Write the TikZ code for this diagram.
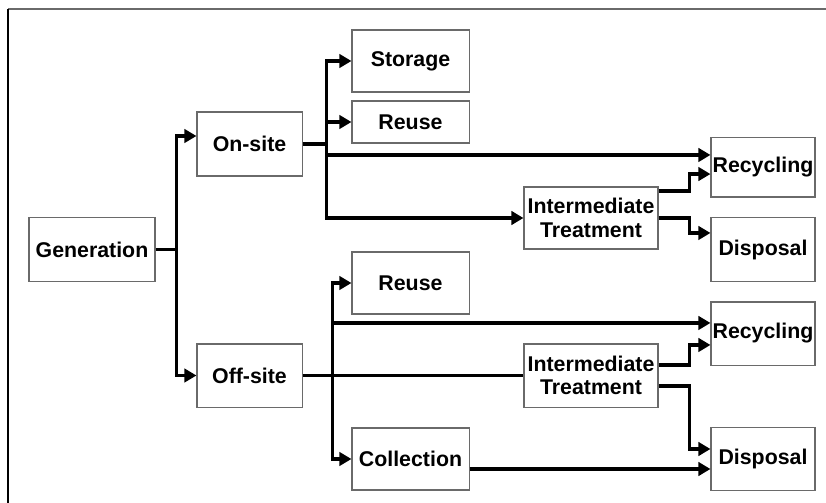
\documentclass[tikz,border=0pt]{standalone}
\usepackage{fontspec}
\setmainfont{Liberation Sans}
\usetikzlibrary{arrows.meta,calc}
\definecolor{boxline}{HTML}{6A6A6A}
\begin{document}
\begin{tikzpicture}[x=0.75pt,y=-0.75pt,
  box/.style={draw=boxline,line width=0.8pt,fill=white,align=center,inner sep=1pt,
    font=\fontsize{16}{17.5}\selectfont\bfseries},
  flow/.style={line width=2.7pt,black},
  arr/.style={flow,-{Triangle[length=9pt,width=10pt]}}]
\useasboundingbox (0,0) rectangle (826,503);
% frame
\draw[boxline,line width=1.2pt] (8,9) -- (826,9);
\draw[black,line width=1.2pt] (8,9) -- (8,503);

% boxes
\node[box,minimum width=94.5pt,minimum height=47.3pt] (gen) at (92,249.5) {Generation};
\node[box,minimum width=78.8pt,minimum height=48pt] (onsite) at (249.5,144) {On-site};
\node[box,minimum width=78.8pt,minimum height=47.3pt] (offsite) at (249.5,375.5) {Off-site};
\node[box,minimum width=87.8pt,minimum height=46.5pt] (storage) at (410.5,61) {Storage};
\node[box,minimum width=87.8pt,minimum height=31.5pt] (reuseA) at (410.5,122) {Reuse};
\node[box,minimum width=87.8pt,minimum height=46.5pt] (reuseB) at (410.5,283) {Reuse};
\node[box,minimum width=87.8pt,minimum height=46.5pt] (collect) at (410.5,459) {Collection};
\node[box,minimum width=100.5pt,minimum height=46.5pt] (interA) at (591,218) {Intermediate\\Treatment};
\node[box,minimum width=100.5pt,minimum height=47.3pt] (interB) at (591,375.5) {Intermediate\\Treatment};
\node[box,minimum width=78pt,minimum height=44.3pt] (recA) at (763,167.5) {Recycling};
\node[box,minimum width=78pt,minimum height=47.3pt] (dispA) at (763,249.5) {Disposal};
\node[box,minimum width=78pt,minimum height=47.3pt] (recB) at (763,333.5) {Recycling};
\node[box,minimum width=78pt,minimum height=47.3pt] (dispB) at (763,459) {Disposal};

% generation split
\coordinate (j0) at ($(gen.east)+(21,0)$);
\draw[flow] (gen.east) -- (j0);
\draw[arr] (j0) |- ([yshift=6pt]onsite.west);
\draw[arr] (j0) |- (offsite.west);

% on-site branch
\coordinate (j1) at ($(onsite.east)+(24,0)$);
\draw[flow] (onsite.east) -- (j1);
\draw[arr] (j1) |- (storage.west);
\draw[arr] (j1) |- (reuseA.west);
\draw[arr] (j1) |- ([yshift=9.4pt]recA.west);
\draw[arr] (j1) |- (interA.west);
\draw[arr] ([yshift=20.25pt]interA.east) -- ++(31,0) |- ([yshift=-4.9pt]recA.west);
\draw[arr] (interA.east) -- ++(31,0) |- ([yshift=12.4pt]dispA.west);

% off-site branch
\coordinate (j2) at ($(offsite.east)+(30,0)$);
\draw[flow] (offsite.east) -- (interB.west);
\draw[arr] (j2) |- (reuseB.west);
\draw[arr] (j2) |- ([yshift=7.9pt]recB.west);
\draw[arr] (j2) |- (collect.west);
\draw[arr] ([yshift=7.9pt]interB.east) -- ++(31,0) |- ([yshift=-8.6pt]recB.west);
\draw[arr] ([yshift=-7.9pt]interB.east) -- ++(31,0) |- ([yshift=7.5pt]dispB.west);
\draw[arr] ([yshift=-7.5pt]collect.east) -- ([yshift=-7.5pt]dispB.west);
\end{tikzpicture}
\end{document}
